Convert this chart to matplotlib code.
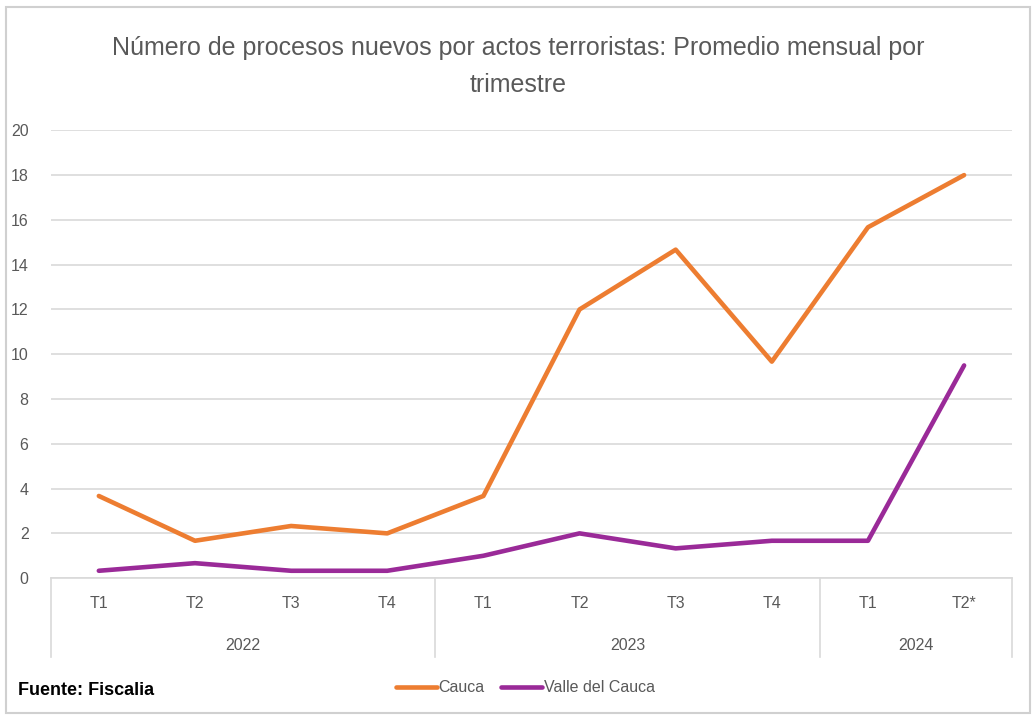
import matplotlib
matplotlib.use("Agg")
import matplotlib.pyplot as plt
import matplotlib.transforms as mtransforms
from matplotlib.patches import Rectangle

plt.rcParams['font.family'] = ['Liberation Sans', 'DejaVu Sans']

quarters = ["T1", "T2", "T3", "T4", "T1", "T2", "T3", "T4", "T1", "T2*"]
years = ["2022", "2023", "2024"]
year_sizes = [4, 4, 2]
cauca = [3.67, 1.67, 2.33, 2.0, 3.67, 12.0, 14.67, 9.67, 15.67, 18.0]
valle = [0.33, 0.67, 0.33, 0.33, 1.0, 2.0, 1.33, 1.67, 1.67, 9.5]

txt = "#595959"
fig = plt.figure(figsize=(10.36, 7.2), dpi=100)
fig.patches.append(Rectangle((0.006, 0.010), 0.988, 0.980, transform=fig.transFigure,
                             fill=False, edgecolor="#D0D0D0", linewidth=1.5))
ax = fig.add_axes([0.049, 0.197, 0.928, 0.622])

x = list(range(len(quarters)))
ax.plot(x, cauca, color="#ED7D31", linewidth=3.3, label="Cauca", solid_capstyle="round")
ax.plot(x, valle, color="#9A2A98", linewidth=3.3, label="Valle del Cauca", solid_capstyle="round")

ax.set_xlim(-0.5, len(quarters) - 0.5)
ax.set_ylim(0, 20)
ax.set_yticks(range(0, 21, 2))
ax.yaxis.grid(True, color="#D9D9D9", linewidth=1.2)
ax.set_axisbelow(True)
for s in ["top", "right", "left"]:
    ax.spines[s].set_visible(False)
ax.spines["bottom"].set_color("#D9D9D9")
ax.spines["bottom"].set_linewidth(1.2)
ax.tick_params(axis="y", length=0, labelsize=11.5, labelcolor=txt, pad=16)
ax.set_xticks([])

# multi-level category axis
trans = mtransforms.blended_transform_factory(ax.transData, ax.transAxes)
for i, q in enumerate(quarters):
    ax.text(i, -0.056, q, transform=trans, ha="center", va="center", fontsize=11.5, color=txt)
start = 0
bounds = [-0.5]
for yr, n in zip(years, year_sizes):
    ax.text(start + (n - 1) / 2, -0.15, yr, transform=trans, ha="center", va="center",
            fontsize=11.5, color=txt)
    start += n
    bounds.append(start - 0.5)
for b in bounds:
    ax.plot([b, b], [0, -0.176], transform=trans, color="#D9D9D9", linewidth=1.2, clip_on=False)

fig.text(0.5, 0.908, "Número de procesos nuevos por actos terroristas: Promedio mensual por\ntrimestre",
         ha="center", va="center", fontsize=18, color=txt, linespacing=1.7)
fig.text(0.017, 0.041, "Fuente: Fiscalia", ha="left", va="center", fontsize=13,
         fontweight="bold", color="black")
fig.legend(loc="center", bbox_to_anchor=(0.507, 0.045), ncol=2, frameon=False,
           fontsize=11.5, labelcolor=txt, handlelength=2.6, handletextpad=0.1, columnspacing=1.0)

fig.savefig("out.png", dpi=100)
